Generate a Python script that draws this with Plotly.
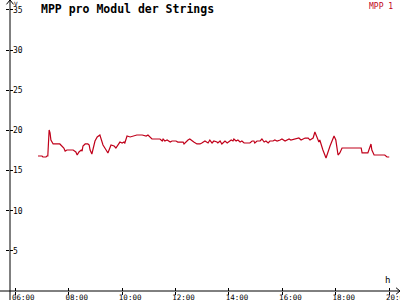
import plotly.graph_objects as go

day = "2024-06-01"
times = ["06:51","07:00","07:02","07:09","07:11","07:13","07:16","07:18","07:20","07:25",
         "07:40","07:45","07:49","07:52","07:56","08:10","08:16","08:19","08:23","08:28",
         "08:30","08:32","08:37","08:43","08:46","08:48","08:52","08:59","09:04","09:10",
         "09:17","09:24","09:28","09:35","09:42","09:46","09:55","10:00","10:04","10:06",
         "10:11","10:18","10:24","10:33","10:45","10:54","10:58","11:03","11:07","11:25",
         "11:30","11:32","11:36","11:41","11:48","11:52","12:01","12:05","12:17","12:19",
         "12:23","12:28","12:32","12:37","12:41","12:48","12:55","12:59","13:02","13:06",
         "13:13","13:17","13:22","13:26","13:33","13:35","13:40","13:44","13:51","13:56",
         "14:05","14:09","14:11","14:16","14:20","14:25","14:29","14:34","14:47","14:52",
         "14:56","14:58","15:03","15:10","15:14","15:19","15:23","15:28","15:32","15:39",
         "15:43","15:48","15:55","15:59","16:06","16:15","16:19","16:28","16:37","16:42",
         "16:51","16:58","17:02","17:09","17:13","17:22","17:24","17:31","17:38","17:47",
         "17:56","18:00","18:05","18:09","18:14","18:57","18:59","19:12","19:19","19:21",
         "19:26","19:50","19:55","20:00"]
mpp1 = [16.81,16.81,16.69,16.69,16.81,16.81,20.05,19.68,18.80,18.31,
        18.31,18.06,17.81,17.43,17.56,17.56,17.31,16.94,17.31,17.56,
        17.43,18.06,18.31,18.31,18.18,17.56,17.06,18.68,19.18,19.43,
        18.18,17.56,17.19,18.18,18.06,17.81,18.55,18.43,18.55,18.43,
        19.30,19.18,19.30,19.43,19.43,19.30,19.43,19.18,18.93,18.93,
        18.68,18.93,18.68,18.80,18.55,18.68,18.68,18.55,18.55,18.31,
        18.55,18.80,18.93,18.68,18.55,18.31,18.31,18.43,18.55,18.68,
        18.43,18.80,18.43,18.68,18.55,18.43,18.68,18.31,18.68,18.43,
        18.80,18.68,18.93,18.68,18.80,18.55,18.68,18.43,18.43,18.68,
        18.68,18.43,18.68,18.68,18.93,18.55,18.68,18.43,18.68,18.68,
        18.80,18.68,18.80,18.93,18.68,18.93,18.80,18.93,19.05,18.80,
        19.05,19.05,18.80,19.05,19.80,18.55,18.80,17.56,16.56,18.06,
        19.30,18.80,16.94,17.19,17.81,17.81,17.19,17.19,18.31,17.56,
        16.94,16.94,16.69,16.69]
y_ticks = [5, 10, 15, 20, 25, 30, 35]
x_range = [day + " 05:48:05", day + " 20:24:11"]
y_range = [0, 36.24]

xs = [day + " " + t for t in times]
RED = "#c0001a"
MONO = "DejaVu Sans Mono"

fig = go.Figure()
fig.add_trace(go.Scatter(x=xs, y=mpp1, mode="lines", name="MPP 1",
                         line=dict(color=RED, width=1.2), showlegend=False))
# overlay trace so the secondary axes exist
fig.add_trace(go.Scatter(x=[xs[0]], y=[mpp1[0]], xaxis="x2", yaxis="y2",
                         mode="markers", marker=dict(opacity=0), showlegend=False,
                         hoverinfo="skip"))

common_x = dict(type="date", range=x_range, tick0=day + " 06:00", dtick=2 * 3600 * 1000,
                showgrid=False, zeroline=False, showline=False, automargin=False)
common_y = dict(range=y_range, tickvals=y_ticks, showgrid=False, zeroline=False,
                showline=False, automargin=False)

fig.update_layout(
    width=400, height=300,
    margin=dict(l=10, r=0, t=0, b=9, autoexpand=False),
    paper_bgcolor="white", plot_bgcolor="white",
    xaxis=dict(**common_x, ticks="inside", ticklen=3, tickcolor="black",
               tickformat="%H:%M", tickfont=dict(family=MONO, size=7.5, color="black"),
               ticklabelshift=8, ticklabelstandoff=0, ticklabeloverflow="allow"),
    xaxis2=dict(**common_x, overlaying="x", side="bottom", ticks="outside", ticklen=3,
                tickcolor="black", showticklabels=False),
    yaxis=dict(**common_y, ticks="outside", ticklen=3, tickcolor="black",
               ticklabelposition="inside", ticklabeloverflow="allow",
               tickfont=dict(family=MONO, size=8, color="black")),
    yaxis2=dict(**common_y, overlaying="y", ticks="inside", ticklen=3, tickcolor="black",
                showticklabels=False),
    showlegend=False,
    shapes=[
        dict(type="line", xref="paper", yref="paper", x0=-10/390, x1=1, y0=0, y1=0,
             line=dict(color="black", width=1)),
        dict(type="line", xref="paper", yref="paper", x0=0, x1=0, y0=-9/291, y1=1,
             line=dict(color="black", width=1)),
        dict(type="path", xref="paper", yref="paper",
             path="M -0.009,0.985 L 0,1 L 0.009,0.985", line=dict(color="black", width=1)),
        dict(type="path", xref="paper", yref="paper",
             path="M 0.99,0.011 L 1,0 L 0.99,-0.011", line=dict(color="black", width=1)),
    ],
    annotations=[
        dict(text="<b>MPP pro Modul der Strings</b>", xref="paper", yref="paper",
             x=29/390, y=1, xanchor="left", yanchor="top", showarrow=False,
             font=dict(family=MONO, size=11.5, color="black")),
        dict(text="MPP 1", xref="paper", yref="paper", x=1, y=1, xanchor="right",
             yanchor="top", xshift=-5, showarrow=False,
             font=dict(family=MONO, size=8, color=RED)),
        dict(text="V", xref="paper", yref="paper", x=0, y=1, xanchor="left",
             yanchor="top", xshift=2, yshift=2, showarrow=False,
             font=dict(family=MONO, size=6, color="black")),
        dict(text="h", xref="paper", yref="paper", x=377/390, y=0, xanchor="center",
             yanchor="bottom", yshift=4, showarrow=False,
             font=dict(family=MONO, size=9, color="black")),
    ],
)

fig.write_html("out.html")
